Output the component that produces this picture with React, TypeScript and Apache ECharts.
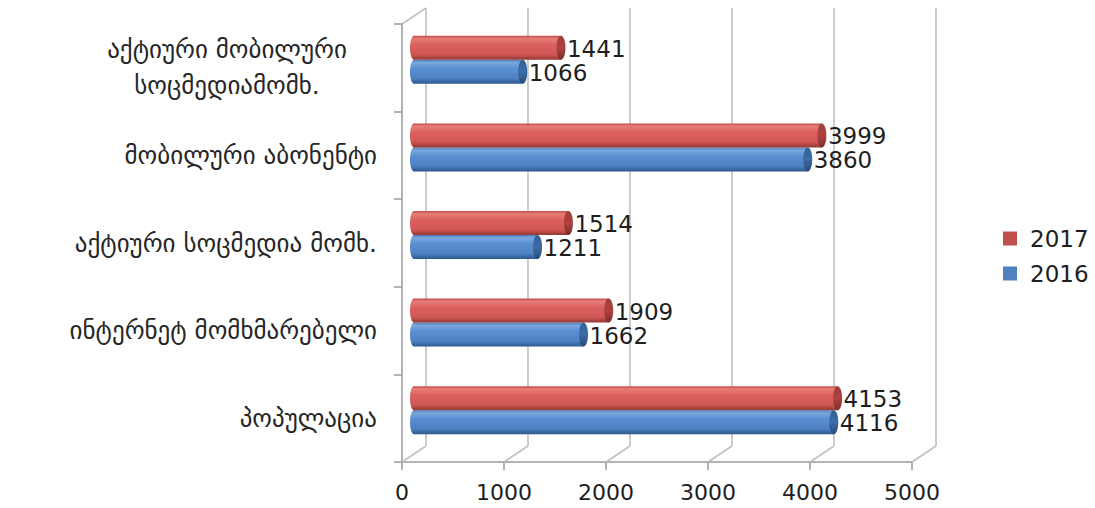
import React, { useEffect, useRef } from "react";
import * as echarts from "echarts";

// Categories, listed bottom to top on the vertical axis
const categories = [
  "პოპულაცია",
  "ინტერნეტ მომხმარებელი",
  "აქტიური სოცმედია მომხ.",
  "მობილური აბონენტი",
  "აქტიური მობილური\nსოცმედიამომხ.",
];
const values2016 = [4116, 1662, 1211, 3860, 1066];
const values2017 = [4153, 1909, 1514, 3999, 1441];
const xTicks = [0, 1000, 2000, 3000, 4000, 5000];
const seriesNames = ["2017", "2016"];

// Layout of the 3D box: front plane, depth offset of the back wall
const FRONT = { left: 402, top: 24, width: 510, height: 438 };
const DEPTH = { dx: 24, dy: -16 };
const BAR_W = 24;
const X_MAX = 5000;

const FONT = "'DejaVu Sans', sans-serif";
const CAT_SIZE = 25;
const WALL = "#c0c0c0";
const AXIS = "#9a9a9a";

const redBody = new echarts.graphic.LinearGradient(0, 0, 0, 1, [
  { offset: 0, color: "#c24c49" },
  { offset: 0.12, color: "#e67d79" },
  { offset: 0.35, color: "#dc625f" },
  { offset: 0.78, color: "#cf5652" },
  { offset: 1, color: "#933835" },
]);
const redCap = new echarts.graphic.LinearGradient(0, 0, 0, 1, [
  { offset: 0, color: "#9c3d3a" },
  { offset: 0.5, color: "#b0423f" },
  { offset: 1, color: "#7a2d2b" },
]);
const blueBody = new echarts.graphic.LinearGradient(0, 0, 0, 1, [
  { offset: 0, color: "#4a7dbd" },
  { offset: 0.12, color: "#7ba7de" },
  { offset: 0.35, color: "#5b90d3" },
  { offset: 0.78, color: "#4c80c1" },
  { offset: 1, color: "#2d578d" },
]);
const blueCap = new echarts.graphic.LinearGradient(0, 0, 0, 1, [
  { offset: 0, color: "#345f96" },
  { offset: 0.5, color: "#3d6ba6" },
  { offset: 1, color: "#274b7a" },
]);

// Cylinder-shaped bar: body, lit start ellipse, shaded end cap, value text
function cylinder(upper: boolean, body: any, cap: any) {
  return (params: any, api: any) => {
    const cat = api.value(0);
    const v = api.value(1);
    const p0 = api.coord([0, cat]);
    const p1 = api.coord([v, cat]);
    const yTop = upper ? p0[1] - BAR_W : p0[1];
    const cy = yTop + BAR_W / 2;
    return {
      type: "group",
      children: [
        {
          type: "rect",
          shape: { x: p0[0], y: yTop, width: p1[0] - p0[0], height: BAR_W },
          style: { fill: body },
        },
        {
          type: "ellipse",
          shape: { cx: p0[0], cy, rx: 4, ry: BAR_W / 2 },
          style: { fill: body },
        },
        {
          type: "ellipse",
          shape: { cx: p1[0], cy, rx: 4.5, ry: BAR_W / 2 },
          style: { fill: cap },
        },
        {
          type: "text",
          x: p1[0] + 6,
          y: cy + 1,
          style: {
            text: String(v),
            fill: "#1e1e1e",
            fontSize: 23,
            fontFamily: FONT,
            align: "left",
            verticalAlign: "middle",
          },
        },
      ],
    };
  };
}

export default function App() {
  const ref = useRef<HTMLDivElement>(null);

  useEffect(() => {
    if (!ref.current) return;
    const chart = echarts.init(ref.current, null, { renderer: "svg" });

    const mid = {
      left: FRONT.left + DEPTH.dx / 2,
      top: FRONT.top + DEPTH.dy / 2,
      width: FRONT.width,
      height: FRONT.height,
    };
    const back = {
      left: FRONT.left + DEPTH.dx,
      top: FRONT.top + DEPTH.dy,
      width: FRONT.width,
      height: FRONT.height,
    };

    // floor diagonals at every x tick, plus the top edge of the left wall
    const edges = [
      ...xTicks.map((t) => [t, 0, 1]),
      [0, categories.length - 1, -1],
    ];

    const option: any = {
      animation: false,
      backgroundColor: "#ffffff",
      grid: [{ ...FRONT }, { ...back }, { ...mid }],
      xAxis: [
        {
          gridIndex: 0,
          type: "value",
          min: 0,
          max: X_MAX,
          interval: 1000,
          axisLine: { show: true, lineStyle: { color: AXIS, width: 1.5 } },
          axisTick: { show: true, length: 8, lineStyle: { color: AXIS, width: 1.5 } },
          axisLabel: {
            fontSize: 22,
            fontFamily: FONT,
            color: "#1e1e1e",
            margin: 19,
            formatter: (v: number) => String(v),
          },
          splitLine: { show: false },
        },
        {
          gridIndex: 1,
          type: "value",
          min: 0,
          max: X_MAX,
          interval: 1000,
          axisLine: { show: false },
          axisTick: { show: false },
          axisLabel: { show: false },
          splitLine: { show: true, lineStyle: { color: WALL, width: 1.6 } },
        },
        {
          gridIndex: 2,
          type: "value",
          min: 0,
          max: X_MAX,
          show: false,
        },
      ],
      yAxis: [
        {
          gridIndex: 0,
          type: "category",
          data: categories,
          axisLine: { show: true, lineStyle: { color: AXIS, width: 1.5 } },
          axisTick: { show: true, length: 8, lineStyle: { color: AXIS, width: 1.5 } },
          axisLabel: {
            fontSize: CAT_SIZE,
            fontFamily: FONT,
            color: "#262626",
            margin: 25,
            lineHeight: 36,
            formatter: (v: string) =>
              v.includes("\n")
                ? v
                    .split("\n")
                    .map((l) => `{c|${l}}`)
                    .join("\n")
                : v,
            rich: {
              c: {
                width: 300,
                align: "center",
                fontSize: CAT_SIZE,
                fontFamily: FONT,
                color: "#262626",
                lineHeight: 36,
              },
            },
          },
        },
        { gridIndex: 1, type: "category", data: categories, show: false },
        { gridIndex: 2, type: "category", data: categories, show: false },
      ],
      legend: {
        orient: "vertical",
        left: 998,
        top: 222,
        itemWidth: 14,
        itemHeight: 14,
        itemGap: 12,
        icon: "rect",
        textStyle: {
          fontSize: 23,
          fontFamily: FONT,
          color: "#1e1e1e",
          padding: [0, 0, 0, 8],
        },
        data: [
          { name: seriesNames[0], itemStyle: { color: "#c0504d" } },
          { name: seriesNames[1], itemStyle: { color: "#4f81bd" } },
        ],
      },
      series: [
        {
          type: "custom",
          name: "edges",
          xAxisIndex: 0,
          yAxisIndex: 0,
          z: 1,
          silent: true,
          encode: { x: 0, y: 1 },
          data: edges,
          renderItem: (params: any, api: any) => {
            const p = api.coord([api.value(0), api.value(1)]);
            const band = api.size([0, 1])[1];
            const y = p[1] + (api.value(2) * band) / 2;
            return {
              type: "line",
              shape: { x1: p[0], y1: y, x2: p[0] + DEPTH.dx, y2: y + DEPTH.dy },
              style: { stroke: WALL, lineWidth: 1.6 },
            };
          },
        },
        {
          type: "custom",
          name: seriesNames[1],
          xAxisIndex: 2,
          yAxisIndex: 2,
          z: 5,
          encode: { x: 1, y: 0 },
          itemStyle: { color: "#4f81bd" },
          data: values2016.map((v, i) => [i, v]),
          renderItem: cylinder(false, blueBody, blueCap),
        },
        {
          type: "custom",
          name: seriesNames[0],
          xAxisIndex: 2,
          yAxisIndex: 2,
          z: 5,
          encode: { x: 1, y: 0 },
          itemStyle: { color: "#c0504d" },
          data: values2017.map((v, i) => [i, v]),
          renderItem: cylinder(true, redBody, redCap),
        },
      ],
    };

    chart.setOption(option);
    return () => chart.dispose();
  }, []);

  return (
    <div
      ref={ref}
      style={{ position: "fixed", left: 0, top: 0, width: 1095, height: 508, background: "#fff" }}
    />
  );
}
